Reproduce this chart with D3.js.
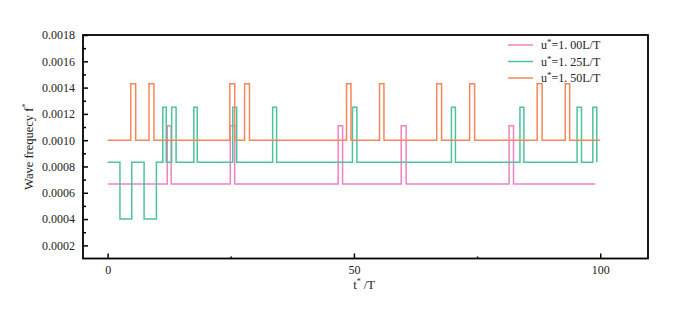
<!DOCTYPE html>
<html>
<head>
<meta charset="utf-8">
<script src="https://cdn.jsdelivr.net/npm/d3@7"></script>
<style>
  body { margin: 0; background: #fff; }
  svg { display: block; font-family: "Liberation Serif", "Times New Roman", serif; }
</style>
</head>
<body>
<svg id="chart" width="692" height="309"></svg>
<script>
// step levels
const pinkBase = 0.000667, pinkPeak = 0.00111;
const greenBase = 0.000833, greenPeak = 0.00125, greenLow = 0.0004;
const orangeBase = 0.001, orangePeak = 0.00143;

// [t*/T, f*] points, drawn as step-after
const pinkData = [
  [0, pinkBase], [12.1, pinkPeak], [12.9, pinkBase], [24.9, pinkPeak], [25.8, pinkBase],
  [46.8, pinkPeak], [47.7, pinkBase], [59.6, pinkPeak], [60.6, pinkBase],
  [81.5, pinkPeak], [82.4, pinkBase], [99, pinkBase]
];
const greenData = [
  [0, greenBase], [2.5, greenLow], [4.9, greenBase], [7.4, greenLow], [9.9, greenBase],
  [11.2, greenPeak], [11.9, greenBase], [13.0, greenPeak], [13.9, greenBase],
  [17.5, greenPeak], [18.2, greenBase], [25.4, greenPeak], [26.2, greenBase],
  [33.5, greenPeak], [34.3, greenBase], [49.7, greenPeak], [50.6, greenBase],
  [69.8, greenPeak], [70.6, greenBase], [83.7, greenPeak], [84.5, greenBase],
  [95.3, greenPeak], [96.2, greenBase], [98.5, greenPeak], [99.3, greenBase]
];
const orangeData = [
  [0, orangeBase], [4.7, orangePeak], [5.7, orangeBase], [8.4, orangePeak], [9.4, orangeBase],
  [24.8, orangePeak], [25.8, orangeBase], [27.8, orangePeak], [28.8, orangeBase],
  [48.5, orangePeak], [49.4, orangeBase], [55.2, orangePeak], [56.1, orangeBase],
  [66.8, orangePeak], [67.8, orangeBase], [73.5, orangePeak], [74.5, orangeBase],
  [87.2, orangePeak], [88.2, orangeBase], [92.9, orangePeak], [93.8, orangeBase],
  [100, orangeBase]
];

const seriesNames = ["1. 00L/T", "1. 25L/T", "1. 50L/T"];
const seriesColors = ["#ee82c3", "#4fc39b", "#f7875b"];
const seriesData = [pinkData, greenData, orangeData];

const xTicks = [0, 50, 100];
const xMinorTicks = [25, 75];
const yTicks = [0.0002, 0.0004, 0.0006, 0.0008, 0.0010, 0.0012, 0.0014, 0.0016, 0.0018];
const yMinorTicks = [0.0003, 0.0005, 0.0007, 0.0009, 0.0011, 0.0013, 0.0015, 0.0017];

const MARGIN = { TOP: 35, RIGHT: 44, BOTTOM: 50.5, LEFT: 83 };
const WIDTH = 692 - MARGIN.LEFT - MARGIN.RIGHT;
const HEIGHT = 309 - MARGIN.TOP - MARGIN.BOTTOM;

const svg = d3.select("#chart");
const g = svg.append("g").attr("transform", `translate(${MARGIN.LEFT},${MARGIN.TOP})`);

const x = d3.scaleLinear().domain([-5, 109.7]).range([0, WIDTH]);
const y = d3.scaleLinear().domain([0.0001, 0.0018]).range([HEIGHT, 0]);

// lines
const line = d3.line()
  .x(d => x(d[0]))
  .y(d => y(d[1]))
  .curve(d3.curveStepAfter);

seriesData.forEach((data, i) => {
  g.append("path")
    .datum(data)
    .attr("fill", "none")
    .attr("stroke", seriesColors[i])
    .attr("stroke-width", 1.5)
    .attr("d", line);
});

// axes (ticks pointing inward)
const yAxis = g.append("g")
  .call(d3.axisLeft(y).tickValues(yTicks).tickFormat(d3.format(".4f")).tickSize(-5).tickPadding(8));
const yMinor = g.append("g")
  .call(d3.axisLeft(y).tickValues(yMinorTicks).tickFormat("").tickSize(-3));
const xAxis = g.append("g")
  .attr("transform", `translate(0,${HEIGHT})`)
  .call(d3.axisBottom(x).tickValues(xTicks).tickFormat(d3.format("d")).tickSize(-5).tickPadding(7));
const xMinor = g.append("g")
  .attr("transform", `translate(0,${HEIGHT})`)
  .call(d3.axisBottom(x).tickValues(xMinorTicks).tickFormat("").tickSize(-2));

[yAxis, yMinor, xAxis, xMinor].forEach(a => {
  a.select(".domain").remove();
  a.selectAll("line").attr("stroke", "#000").attr("stroke-width", 1.5);
  a.selectAll("text").attr("font-size", 12).attr("fill", "#222")
    .attr("font-family", "Liberation Serif, serif");
});

// frame
g.append("rect")
  .attr("x", 0).attr("y", 0)
  .attr("width", WIDTH).attr("height", HEIGHT)
  .attr("fill", "none")
  .attr("stroke", "#000")
  .attr("stroke-width", 1.8);

// axis labels
const yLab = svg.append("text")
  .attr("transform", `translate(33,${MARGIN.TOP + HEIGHT / 2}) rotate(-90)`)
  .attr("text-anchor", "middle")
  .attr("font-size", 12.5)
  .attr("fill", "#222");
yLab.append("tspan").text("Wave frequecy f");
yLab.append("tspan").attr("dy", -5).attr("font-size", 8).text("*");

const xLab = svg.append("text")
  .attr("x", 364)
  .attr("y", 289)
  .attr("text-anchor", "middle")
  .attr("font-size", 12.5)
  .attr("fill", "#222");
xLab.append("tspan").text("t");
xLab.append("tspan").attr("dy", -5).attr("font-size", 8).text("*");
xLab.append("tspan").attr("dy", 5).text(" /T");

// legend
const legend = svg.append("g").attr("transform", "translate(508,45)");
seriesNames.forEach((name, i) => {
  const row = legend.append("g").attr("transform", `translate(0,${i * 16.5})`);
  row.append("line")
    .attr("x1", 0).attr("x2", 25)
    .attr("stroke", seriesColors[i])
    .attr("stroke-width", 1.5);
  const t = row.append("text")
    .attr("x", 33).attr("y", 4)
    .attr("font-size", 12)
    .attr("fill", "#222");
  t.append("tspan").text("u");
  t.append("tspan").attr("dy", -4).attr("font-size", 9).text("*");
  t.append("tspan").attr("dy", 4).text("=" + name);
});
</script>
</body>
</html>
